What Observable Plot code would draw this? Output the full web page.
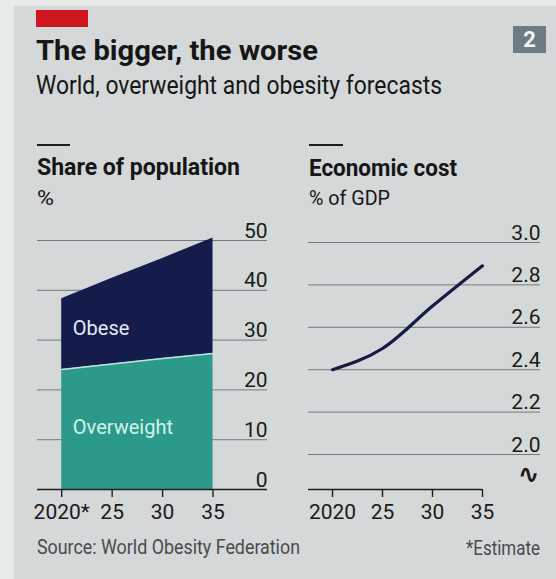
<!DOCTYPE html>
<html><head><meta charset="utf-8">
<script src="https://cdn.jsdelivr.net/npm/d3@7"></script>
<script src="https://cdn.jsdelivr.net/npm/@observablehq/plot@0.6"></script>
<style>
html,body{margin:0;padding:0;}
body{width:556px;height:579px;overflow:hidden;background:#e8eaea;position:relative;}
#panel{position:absolute;left:14px;top:6px;right:0;bottom:0;background:#d4d8d9;}
#redbar{position:absolute;left:36px;top:10px;width:52px;height:17px;background:#d0161f;}
#badge{position:absolute;left:513px;top:26px;width:33px;height:27px;background:#6d7b82;color:#f4f6f6;font:bold 22px Roboto,sans-serif;text-align:center;line-height:27px;}
.t{position:absolute;white-space:nowrap;line-height:1;transform-origin:0 0;color:#161616;}
.rule{position:absolute;height:2px;background:#1e1e1e;}
.plot{position:absolute;top:200px;}
</style></head><body>
<div id="panel"></div>
<div id="redbar"></div>
<div id="badge">2</div>
<div class="rule" style="left:37px;top:144px;width:33px"></div>
<div class="rule" style="left:309px;top:144px;width:34px"></div>
<div id="left" class="plot" style="left:0px"></div>
<div id="right" class="plot" style="left:278px"></div>
<script>
// ---------- data ----------
const years = [2020, 2025, 2030, 2035];
const yearLabelsLeft = ["2020*", "25", "30", "35"];
const yearLabelsRight = ["2020", "25", "30", "35"];
const overweight = [24.1, 25.2, 26.3, 27.3];   // % of population
const obese = [14.2, 17.2, 20.1, 23.2];        // % of population
const economicCost = [2.40, 2.50, 2.70, 2.89]; // % of GDP
const shareTicks = [0, 10, 20, 30, 40, 50];
const costTicks = [2.0, 2.2, 2.4, 2.6, 2.8, 3.0];
const areaLabels = ["Obese", "Overweight"];

const titleText = "The bigger, the worse";
const subtitleText = "World, overweight and obesity forecasts";
const leftTitle = "Share of population", leftUnit = "%";
const rightTitle = "Economic cost", rightUnit = "% of GDP";
const sourceText = "Source: World Obesity Federation";
const noteText = "*Estimate";

// ---------- fonts ----------
const FONT = 'Roboto, sans-serif';
const FS = 21;

// ---------- html text ----------
function addText(str, {left, baseline, size, weight=400, width, color="#161616", anchor="start"}){
  const el=document.createElement("div");
  el.className="t"; el.textContent=str;
  el.style.fontFamily=FONT; el.style.fontSize=size+"px"; el.style.fontWeight=weight; el.style.color=color;
  el.style.top=(baseline-0.845*size)+"px";
  document.body.appendChild(el);
  const w=el.getBoundingClientRect().width;
  const k = width ? width/w : 1;
  el.style.transform=`scaleX(${k})`;
  el.style.left = (anchor==="end" ? left - w*k : left)+"px";
  return el;
}
addText(titleText,{left:36,baseline:61,size:28,weight:700,width:282});
addText(subtitleText,{left:36,baseline:94,size:26,width:406});
addText(leftTitle,{left:37,baseline:175,size:24,weight:700,width:203});
addText(leftUnit,{left:37,baseline:206,size:21,width:17});
addText(rightTitle,{left:309,baseline:176,size:24,weight:700,width:148});
addText(rightUnit,{left:309,baseline:206,size:21,width:81});
addText(sourceText,{left:37,baseline:554,size:20,width:263,color:"#474b4c"});
addText(noteText,{left:540,baseline:555,size:20,width:74,color:"#474b4c",anchor:"end"});

// ---------- left chart ----------
const leftRows = years.map((y,i)=>({year:y, ow:overweight[i], total:overweight[i]+obese[i]}));
const labelRows = [
  {text:areaLabels[0], year:2021.1, value:32.3, color:"#e4ebf2"},
  {text:areaLabels[1], year:2021.1, value:12.4, color:"#d3f1ec"}
];
const W = 278, H = 345;
const leftPlot = Plot.plot({
  width: W, height: H,
  marginLeft: 37, marginRight: 11, marginTop: 40, marginBottom: 56,
  style: {background:"transparent", fontFamily: FONT, overflow:"visible"},
  x: {domain:[2017.6, 2040.4], axis:null},
  y: {domain:[0, 50], axis:null},
  marks: [
    Plot.ruleY(shareTicks.filter(d=>d>0), {stroke:"#737b7c", strokeWidth:1}),
    Plot.areaY(leftRows, {x:"year", y1:0, y2:"ow", fill:"#2b9a8b"}),
    Plot.areaY(leftRows, {x:"year", y1:"ow", y2:"total", fill:"#141c4c"}),
    Plot.line(leftRows, {x:"year", y:"ow", stroke:"#bfe3dc", strokeWidth:1.6}),
    Plot.ruleY([0], {stroke:"#1e1e1e", strokeWidth:1.6}),
    Plot.text(shareTicks, {y:d=>d, text:d=>String(d), frameAnchor:"right", textAnchor:"end", lineAnchor:"bottom", dy:-3, fontSize:FS, fill:"#1a1a1a"}),
    Plot.text(labelRows, {x:"year", y:"value", text:"text", fill:"color", textAnchor:"start", lineAnchor:"middle", fontSize:20}),
    Plot.axisX(years, {anchor:"bottom", tickSize:8, tickPadding:7, fontSize:FS, fill:"#1a1a1a", stroke:"#1e1e1e", strokeWidth:1.4,
      tickFormat:d=>yearLabelsLeft[years.indexOf(d)], label:null})
  ]
});
document.getElementById("left").appendChild(leftPlot);

// ---------- right chart ----------
const rightRows = years.map((y,i)=>({year:y, cost:economicCost[i]}));
const yMinRight = 1.835, axisEnd = 2035, xStart = 2017.6;
const rightPlot = Plot.plot({
  width: W, height: H,
  marginLeft: 30, marginRight: 16, marginTop: 42, marginBottom: 56,
  style: {background:"transparent", fontFamily: FONT, overflow:"visible"},
  x: {domain:[xStart, 2040.8], axis:null},
  y: {domain:[yMinRight, 3.0], axis:null},
  marks: [
    Plot.ruleY(costTicks, {stroke:"#737b7c", strokeWidth:1}),
    Plot.line(rightRows, {x:"year", y:"cost", stroke:"#141b47", strokeWidth:3.2, curve:"monotone-x"}),
    Plot.ruleY([yMinRight], {x1:xStart, x2:axisEnd, stroke:"#1e1e1e", strokeWidth:1.6}),
    Plot.text(costTicks, {y:d=>d, text:d=>d.toFixed(1), frameAnchor:"right", textAnchor:"end", lineAnchor:"bottom", dy:-3, fontSize:FS, fill:"#1a1a1a"}),
    Plot.text(["\u223F"], {frameAnchor:"bottom-right", dx:-1, dy:-15, textAnchor:"end", lineAnchor:"middle", fontSize:26, fontWeight:"bold", fontFamily:"DejaVu Sans", fill:"#1a1a1a"}),
    Plot.axisX(years, {anchor:"bottom", tickSize:8, tickPadding:7, fontSize:FS, fill:"#1a1a1a", stroke:"#1e1e1e", strokeWidth:1.4,
      tickFormat:d=>yearLabelsRight[years.indexOf(d)], label:null})
  ]
});
document.getElementById("right").appendChild(rightPlot);
</script>
</body></html>
